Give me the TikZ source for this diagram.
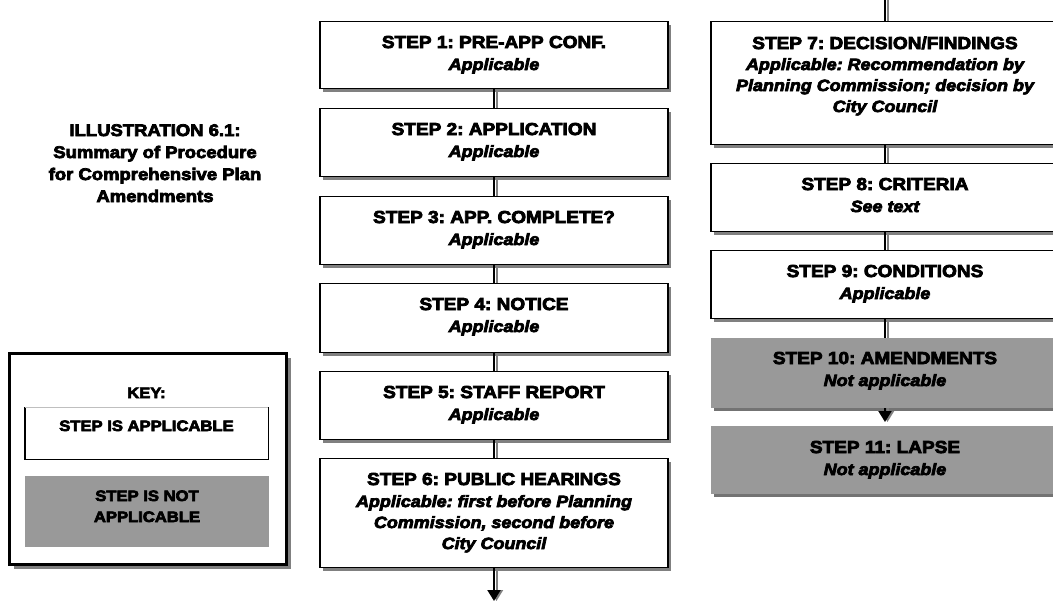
\documentclass[tikz,border=0pt]{standalone}
\usepackage{fontspec}
\setmainfont{Liberation Sans}[BoldFeatures={FakeStretch=1.1,FakeBold=4.5},BoldItalicFeatures={FakeStretch=1.1,FakeBold=4.5}]
\usetikzlibrary{shadows,arrows.meta}
\definecolor{shad}{gray}{0.5}
\definecolor{shadd}{gray}{0.45}
\definecolor{napp}{gray}{0.6}
\frenchspacing
\begin{document}
\begin{tikzpicture}[x=1pt,y=-1pt,
  stepbox/.style={draw=black, line width=1.4pt, fill=white, minimum width=348pt, minimum height=#1, inner sep=0pt, anchor=north,
    drop shadow={shadow xshift=3pt, shadow yshift=-3pt, fill=shad, opacity=1}},
  nabox/.style={fill=napp, minimum width=348pt, minimum height=#1, inner sep=0pt, anchor=north,
    drop shadow={shadow xshift=3pt, shadow yshift=-3pt, fill=shadd, opacity=1}},
  hd/.style={font=\fontsize{17.3}{20}\selectfont\bfseries, anchor=base, inner sep=0pt},
  bd/.style={font=\fontsize{16.3}{21}\selectfont\bfseries\itshape, anchor=base, inner sep=0pt, align=center},
  kt/.style={font=\fontsize{15.1}{21}\selectfont\bfseries, anchor=base, inner sep=0pt, align=center},
  tt/.style={font=\fontsize{16.8}{22}\selectfont\bfseries, anchor=base, inner sep=0pt, align=center},
  conn/.style={draw=black, line width=2pt, preaction={draw=shad, line width=2pt, transform canvas={xshift=2.5pt}}},
  arr/.style={-{Triangle[width=13pt,length=11pt]}}
]
\useasboundingbox (0,0) rectangle (1053,603);
\clip (0,0) rectangle (1053,603);

% title (anchor base = last line)
\node[tt] (title) at (155,202) {ILLUSTRATION 6.1:\\Summary of Procedure\\for Comprehensive Plan\\Amendments};

% key
\node[draw=black, line width=2.6pt, fill=white, minimum width=277pt, minimum height=211pt, inner sep=0pt, anchor=north west,
  drop shadow={shadow xshift=5pt, shadow yshift=-5pt, fill=shad, opacity=1}] (key) at (8,352) {};
\node[kt] (keyt) at (146.5,398) {KEY:};
\node[minimum width=243pt, minimum height=52pt, inner sep=0pt, anchor=north west] (kapp) at (25,407) {};
\draw[black, line width=1.4pt] (kapp.north west) -- (kapp.south west) -- (kapp.south east) -- (kapp.north east);
\draw[black!25, line width=0.8pt] (kapp.north west) -- (kapp.north east);
\node[kt] (kappt) at (146.5,431) {STEP IS APPLICABLE};
\node[fill=napp, minimum width=244pt, minimum height=71pt, inner sep=0pt, anchor=north west] (knapp) at (25,476) {};
\node[kt] (knappt) at (147,522) {STEP IS NOT\\APPLICABLE};

% left column
\node[stepbox=67pt] (s1) at (494,21) {};
\node[stepbox=68pt] (s2) at (494,108) {};
\node[stepbox=68pt] (s3) at (494,196) {};
\node[stepbox=69pt] (s4) at (494,283) {};
\node[stepbox=68pt] (s5) at (494,371) {};
\node[stepbox=109pt] (s6) at (494,458) {};

\node[hd] (h1) at ([yshift=-27pt]s1.north) {STEP 1: PRE-APP CONF.};
\node[bd] (b1) at ([yshift=-22pt]h1.base) {Applicable};
\node[hd] (h2) at ([yshift=-27pt]s2.north) {STEP 2: APPLICATION};
\node[bd] (b2) at ([yshift=-22pt]h2.base) {Applicable};
\node[hd] (h3) at ([yshift=-27pt]s3.north) {STEP 3: APP. COMPLETE?};
\node[bd] (b3) at ([yshift=-22pt]h3.base) {Applicable};
\node[hd] (h4) at ([yshift=-27pt]s4.north) {STEP 4: NOTICE};
\node[bd] (b4) at ([yshift=-22pt]h4.base) {Applicable};
\node[hd] (h5) at ([yshift=-27pt]s5.north) {STEP 5: STAFF REPORT};
\node[bd] (b5) at ([yshift=-22pt]h5.base) {Applicable};
\node[hd] (h6) at ([yshift=-27pt]s6.north) {STEP 6: PUBLIC HEARINGS};
\node[bd] (b6) at ([yshift=-64pt]h6.base) {Applicable: first before Planning\\Commission, second before\\City Council};

% right column
\node[stepbox=123pt] (s7) at (885,21) {};
\node[stepbox=68pt] (s8) at (885,163) {};
\node[stepbox=68pt] (s9) at (885,250) {};
\node[nabox=70pt] (s10) at (885,338) {};
\node[nabox=68pt] (s11) at (885,426) {};

\node[hd] (h7) at ([yshift=-28pt]s7.north) {STEP 7: DECISION/FINDINGS};
\node[bd] (b7) at ([yshift=-63pt]h7.base) {Applicable: Recommendation by\\Planning Commission; decision by\\City Council};
\node[hd] (h8) at ([yshift=-27pt]s8.north) {STEP 8: CRITERIA};
\node[bd] (b8) at ([yshift=-22pt]h8.base) {See text};
\node[hd] (h9) at ([yshift=-27pt]s9.north) {STEP 9: CONDITIONS};
\node[bd] (b9) at ([yshift=-22pt]h9.base) {Applicable};
\node[hd] (h10) at ([yshift=-26pt]s10.north) {STEP 10: AMENDMENTS};
\node[bd] (b10) at ([yshift=-22pt]h10.base) {Not applicable};
\node[hd] (h11) at ([yshift=-27pt]s11.north) {STEP 11: LAPSE};
\node[bd] (b11) at ([yshift=-22pt]h11.base) {Not applicable};

% connectors
\draw[conn] (s1.south) -- (s2.north);
\draw[conn] (s2.south) -- (s3.north);
\draw[conn] (s3.south) -- (s4.north);
\draw[conn] (s4.south) -- (s5.north);
\draw[conn] (s5.south) -- (s6.north);
\coordinate (end6) at (494,601);
\draw[conn, arr] (s6.south) -- (end6);
\coordinate (top7) at (885,0);
\draw[conn] (top7) -- (s7.north);
\draw[conn] (s7.south) -- (s8.north);
\draw[conn] (s8.south) -- (s9.north);
\draw[conn] (s9.south) -- (s10.north);
\draw[conn, arr, shorten >=4pt] (s10.south) -- (s11.north);
\end{tikzpicture}
\end{document}
